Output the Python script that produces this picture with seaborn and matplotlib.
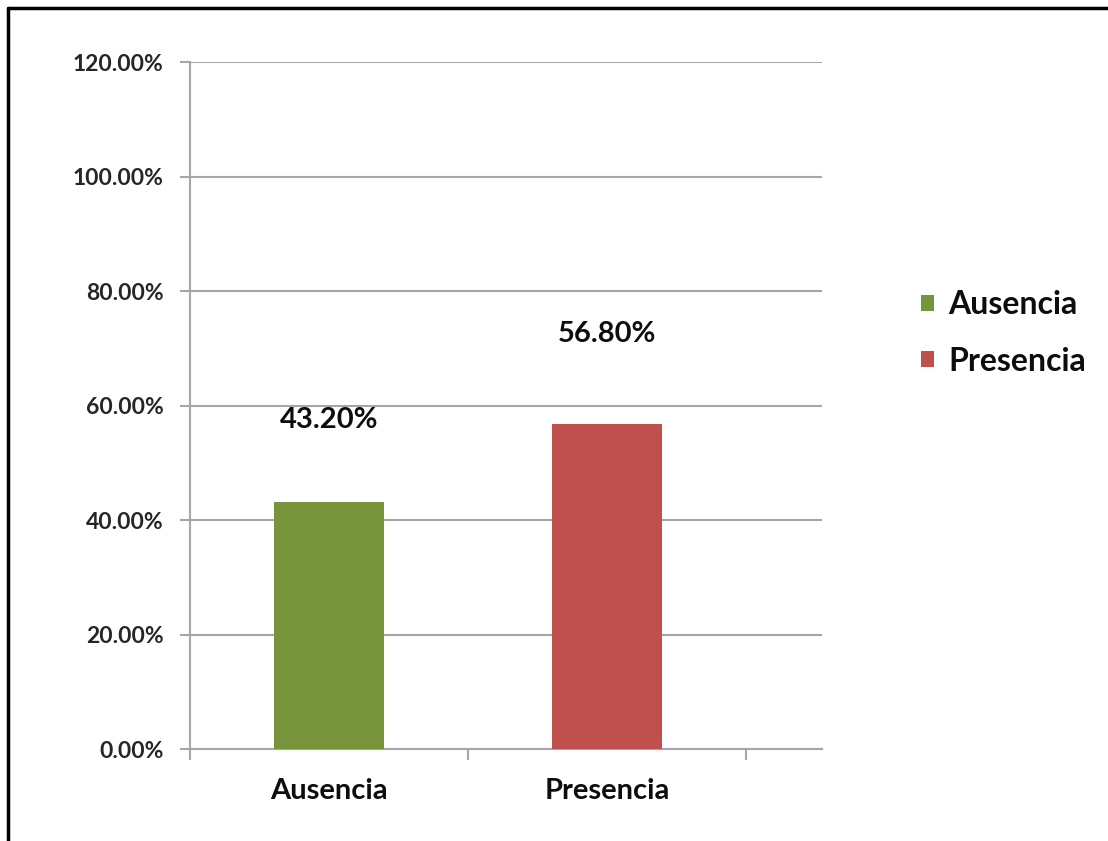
import matplotlib
matplotlib.use("Agg")
import matplotlib.pyplot as plt
from matplotlib.lines import Line2D
from matplotlib.patches import Patch
from matplotlib.ticker import FixedLocator, PercentFormatter
import seaborn as sns
import pandas as pd

categories = ["Ausencia", "Presencia"]
values = [43.20, 56.80]
colors = ["#77933C", "#C0504D"]
y_ticks = [0, 20, 40, 60, 80, 100, 120]

sns.set_theme(style="white")
plt.rcParams["font.family"] = ["Lato", "DejaVu Sans"]

df = pd.DataFrame({"categoria": categories, "porcentaje": values})

fig = plt.figure(figsize=(11.08, 8.41), dpi=100)
ax = fig.add_axes([190 / 1108, 1 - 749 / 841, (822 - 190) / 1108, (749 - 62) / 841])

sns.barplot(data=df, x="categoria", y="porcentaje", hue="categoria",
            palette=colors, dodge=False, width=0.396, legend=False,
            saturation=1, linewidth=0, ax=ax, zorder=3)

ax.set_ylim(0, 120)
ax.set_xlim(-0.5, 1.773)
ax.set_yticks(y_ticks)
ax.yaxis.set_major_formatter(PercentFormatter(decimals=2))
ax.grid(axis="y", color="#a6a6a6", linewidth=1.5, zorder=0)
ax.grid(axis="x", visible=False)

for side in ("top", "right"):
    ax.spines[side].set_visible(False)
for side in ("left", "bottom"):
    ax.spines[side].set_color("#a6a6a6")
    ax.spines[side].set_linewidth(1.5)

ax.tick_params(axis="y", which="major", left=True, length=7, width=1.5,
               color="#a6a6a6", labelsize=16.5, labelcolor="#262626", pad=12)
ax.tick_params(axis="x", which="major", bottom=False, labelsize=21,
               labelcolor="#0d0d0d", pad=15)
ax.xaxis.set_minor_locator(FixedLocator([-0.5, 0.5, 1.5]))
ax.tick_params(axis="x", which="minor", bottom=True, length=8, width=1.5,
               color="#a6a6a6")
for lab in ax.get_yticklabels() + ax.get_xticklabels():
    lab.set_fontweight("bold")
ax.set_xlabel("")
ax.set_ylabel("")

# value labels above each bar
label_offsets = [82, 90]
for i, (v, off) in enumerate(zip(values, label_offsets)):
    ax.annotate(f"{v:.2f}%", xy=(i, v), xytext=(0, off), textcoords="offset pixels",
                ha="center", va="center", fontsize=21, fontweight="bold",
                color="#0d0d0d")

handles = [Patch(facecolor=c, edgecolor="none") for c in colors]
fig.legend(handles, categories, loc="center left",
           bbox_to_anchor=(892 / 1108, 1 - 333 / 841), frameon=False,
           prop={"size": 23, "weight": "bold"}, handlelength=0.4,
           handleheight=0.4, handletextpad=0.45, labelspacing=0.85,
           labelcolor="#0d0d0d")

# frame lines along the top and left edge
fig.add_artist(Line2D([8 / 1108, 8 / 1108], [0, 1 - 8 / 841], color="black",
                      linewidth=2.5, transform=fig.transFigure))
fig.add_artist(Line2D([8 / 1108, 1], [1 - 8 / 841, 1 - 8 / 841], color="black",
                      linewidth=2.5, transform=fig.transFigure))

fig.savefig("out.png", dpi=100)
